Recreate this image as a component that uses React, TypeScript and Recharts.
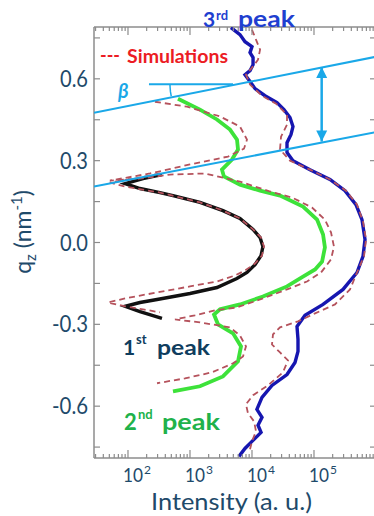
import React from 'react';
import { Scatter, ScatterChart, XAxis, YAxis } from 'recharts';

// intensity (a.u.) against q_z (nm^-1)
const PEAK1_QZ = [0.249, 0.234, 0.216, 0.198, 0.183, 0.172, 0.147, 0.117, 0.088, 0.048, 0.018, -0.015, -0.048, -0.081, -0.11, -0.132, -0.165, -0.187, -0.209, -0.22, -0.234, -0.253, -0.278];
const PEAK1_INT = [353, 175, 90, 156, 328, 532, 1450, 3400, 6400, 10400, 13500, 15000, 14000, 11200, 8300, 5700, 2720, 1000, 294, 156, 90, 156, 353];

const PEAK2_QZ = [0.527, 0.487, 0.451, 0.414, 0.377, 0.341, 0.304, 0.267, 0.242, 0.212, 0.19, 0.172, 0.132, 0.084, 0.029, -0.018, -0.07, -0.099, -0.125, -0.161, -0.198, -0.227, -0.245, -0.264, -0.3, -0.333, -0.381, -0.436, -0.491, -0.527, -0.546];
const PEAK2_INT = [640, 1450, 2720, 4420, 5730, 5950, 4750, 3280, 3530, 6400, 13500, 28300, 66500, 112000, 140000, 150000, 135000, 104000, 66500, 36700, 15000, 6400, 3050, 2440, 2830, 4940, 6650, 5950, 3400, 1450, 532];

const PEAK3_QZ = [0.788, 0.762, 0.736, 0.718, 0.696, 0.678, 0.652, 0.63, 0.615, 0.59, 0.564, 0.538, 0.513, 0.487, 0.458, 0.425, 0.396, 0.366, 0.33, 0.3, 0.267, 0.231, 0.19, 0.139, 0.084, 0.011, -0.051, -0.11, -0.172, -0.227, -0.267, -0.308, -0.355, -0.399, -0.44, -0.484, -0.524, -0.568, -0.612, -0.641, -0.67, -0.696, -0.729, -0.755, -0.784];
const PEAK3_INT = [4580, 6400, 7710, 10000, 9290, 10400, 10400, 9290, 7710, 9290, 11200, 16200, 25300, 32800, 41000, 45800, 42600, 36700, 36700, 45800, 86100, 181000, 316000, 475000, 594000, 665000, 617000, 494000, 294000, 140000, 71600, 53200, 55200, 55200, 49400, 36700, 21000, 14500, 12000, 14500, 12500, 14000, 10000, 7710, 6170];

const SIM1_QZ = [0.253, 0.234, 0.22, 0.205, 0.183, 0.147, 0.117, 0.088, 0.048, 0.018, -0.015, -0.048, -0.077, -0.103, -0.121, -0.143, -0.161, -0.183, -0.205, -0.22, -0.234, -0.245, -0.256];
const SIM1_INT = [328, 130, 51, 90, 328, 1450, 3400, 6400, 10400, 14000, 15600, 14500, 11200, 7710, 5320, 2720, 1000, 294, 90, 47.5, 90, 175, 328];

const SIM2_QZ = [0.516, 0.498, 0.462, 0.425, 0.377, 0.344, 0.315, 0.286, 0.253, 0.227, 0.234, 0.249, 0.253, 0.223, 0.187, 0.165, 0.128, 0.084, 0.037, -0.015, -0.062, -0.11, -0.143, -0.172, -0.209, -0.238, -0.249, -0.267, -0.282, -0.293, -0.311, -0.341, -0.381, -0.418, -0.443, -0.476, -0.498, -0.516];
const SIM2_INT = [272, 895, 3050, 6400, 8300, 7430, 4100, 1000, 226, 51, 156, 475, 1750, 6400, 19500, 44200, 92900, 150000, 188000, 210000, 188000, 130000, 77100, 36700, 13500, 5730, 2530, 1200, 573, 1450, 4420, 6400, 8000, 7160, 4940, 2260, 830, 294];

const SIM3_QZ = [0.78, 0.744, 0.707, 0.67, 0.641, 0.615, 0.579, 0.538, 0.509, 0.469, 0.432, 0.388, 0.341, 0.3, 0.267, 0.231, 0.19, 0.139, 0.077, 0.011, -0.051, -0.11, -0.172, -0.227, -0.26, -0.289, -0.311, -0.337, -0.374, -0.403, -0.432, -0.476, -0.524, -0.56, -0.593, -0.626, -0.656, -0.692, -0.729, -0.758];
const SIM3_INT = [10000, 11600, 13500, 12500, 10000, 8000, 9290, 14500, 24400, 36700, 36700, 29400, 28300, 41000, 86100, 181000, 328000, 494000, 617000, 690000, 640000, 494000, 381000, 218000, 104000, 55200, 28300, 21800, 21000, 28300, 38100, 31600, 18100, 10400, 8000, 8610, 10800, 11600, 10000, 9290];

// cyan guide lines
const UPPER_INT = [28.3, 1000000];
const UPPER_QZ = [0.476, 0.681];
const LOWER_INT = [28.3, 1000000];
const LOWER_QZ = [0.205, 0.405];
const HLINE_INT = [218, 4940];
const HLINE_QZ = [0.58, 0.58];
const ARC_INT = [475, 478, 484, 498];
const ARC_QZ = [0.58, 0.568, 0.553, 0.537];
const ARROW_INT = [133000, 133000];
const ARROW_QZ = [0.643, 0.37];
const ARROW_DIR = ['up', 'down'];

const X_MAJOR = [100, 1000, 10000, 100000];
const X_DECADES = [10, 100, 1000, 10000, 100000];
const X_MULT = [2, 3, 4, 5, 6, 7, 8, 9];
const Y_TICKS = [-0.75, -0.6, -0.45, -0.3, -0.15, 0, 0.15, 0.3, 0.45, 0.6, 0.75];
const Y_LABELED = [-0.6, -0.3, 0, 0.3, 0.6];

const X_DOMAIN = [28.3, 1000000];
const Y_DOMAIN = [-0.79, 0.79];

const xTicks = [
  ...X_DECADES.flatMap((d) => X_MULT.map((m) => m * d)).filter((v) => v >= X_DOMAIN[0] && v <= X_DOMAIN[1]),
  ...X_MAJOR,
].sort((a, b) => a - b);

const zip = (xs: number[], ys: number[]) => xs.map((x, i) => ({ x, y: ys[i] }));

const AXIS = '#8c8c8c';
const NAVY = '#1e4a6a';
const CYAN = '#1aa8e8';
const SIM = '#b5525c';
const FONT = 'Lato, "Open Sans", sans-serif';

const Empty = () => <g />;

const BottomTick = (props: any) => {
  const { x, y, payload } = props;
  const v = payload.value;
  const major = X_MAJOR.includes(v);
  return (
    <g>
      <line x1={x} x2={x} y1={y} y2={y - (major ? 8 : 4)} stroke={AXIS} strokeWidth={1.2} />
      {major && (
        <g fill={NAVY} fontFamily={FONT}>
          <text x={x - 5} y={y + 24} fontSize={19} textLength={20} lengthAdjust="spacingAndGlyphs">
            10
          </text>
          <text x={x + 16} y={y + 16} fontSize={12}>
            {Math.round(Math.log10(v))}
          </text>
        </g>
      )}
    </g>
  );
};

const TopTick = (props: any) => {
  const { x, y, payload } = props;
  const major = X_MAJOR.includes(payload.value);
  return <line x1={x} x2={x} y1={y} y2={y + (major ? 8 : 4)} stroke={AXIS} strokeWidth={1.2} />;
};

const LeftTick = (props: any) => {
  const { x, y, payload } = props;
  const v = payload.value;
  const labeled = Y_LABELED.some((t) => Math.abs(t - v) < 1e-6);
  return (
    <g>
      <line x1={x} x2={x + 6} y1={y} y2={y} stroke={AXIS} strokeWidth={1.2} />
      {labeled && (
        <text
          x={x - 6}
          y={y + 8}
          textAnchor="end"
          fill={NAVY}
          fontFamily={FONT}
          fontSize={23}
          textLength={v < 0 ? 36 : 28}
          lengthAdjust="spacingAndGlyphs"
        >
          {v.toFixed(1)}
        </text>
      )}
    </g>
  );
};

const RightTick = (props: any) => {
  const { x, y } = props;
  return <line x1={x} x2={x - 6} y1={y} y2={y} stroke={AXIS} strokeWidth={1.2} />;
};

const ArrowHead = (props: any) => {
  const { cx, cy, payload } = props;
  const s = payload.dir === 'up' ? 1 : -1;
  return <path d={`M${cx},${cy} L${cx - 5.5},${cy + s * 11} L${cx + 5.5},${cy + s * 11} Z`} fill={CYAN} />;
};

export default function App() {
  const arrow = ARROW_INT.map((x, i) => ({ x, y: ARROW_QZ[i], dir: ARROW_DIR[i] }));
  const series = [
    { data: zip(PEAK1_INT, PEAK1_QZ), stroke: '#111111', width: 3.4, dash: undefined },
    { data: zip(PEAK2_INT, PEAK2_QZ), stroke: '#3de23a', width: 3.8, dash: undefined },
    { data: zip(PEAK3_INT, PEAK3_QZ), stroke: '#1616b0', width: 3.4, dash: undefined },
    { data: zip(SIM1_INT, SIM1_QZ), stroke: SIM, width: 1.8, dash: '6 4' },
    { data: zip(SIM2_INT, SIM2_QZ), stroke: SIM, width: 1.8, dash: '6 4' },
    { data: zip(SIM3_INT, SIM3_QZ), stroke: SIM, width: 1.8, dash: '6 4' },
    { data: zip(UPPER_INT, UPPER_QZ), stroke: CYAN, width: 2, dash: undefined },
    { data: zip(LOWER_INT, LOWER_QZ), stroke: CYAN, width: 2, dash: undefined },
    { data: zip(HLINE_INT, HLINE_QZ), stroke: CYAN, width: 2, dash: undefined },
    { data: zip(ARC_INT, ARC_QZ), stroke: CYAN, width: 1.5, dash: undefined },
  ];

  const axisCommon = {
    interval: 0 as const,
    tickSize: 0,
    tickMargin: 0,
    allowDataOverflow: true,
    axisLine: { stroke: AXIS, strokeWidth: 1.5 },
  };

  return (
    <div style={{ position: 'absolute', left: 0, top: 0, width: 374, height: 516, overflow: 'hidden', background: '#fff' }}>
      <ScatterChart width={377} height={516} margin={{ top: 26, right: 0, bottom: 57, left: 93 }}>
        <XAxis
          {...axisCommon}
          xAxisId="b"
          type="number"
          dataKey="x"
          scale="log"
          domain={X_DOMAIN}
          ticks={xTicks}
          height={1}
          tick={<BottomTick />}
        />
        <XAxis
          {...axisCommon}
          xAxisId="t"
          orientation="top"
          type="number"
          dataKey="x"
          scale="log"
          domain={X_DOMAIN}
          ticks={xTicks}
          height={1}
          tick={<TopTick />}
        />
        <YAxis
          {...axisCommon}
          yAxisId="l"
          type="number"
          dataKey="y"
          domain={Y_DOMAIN}
          ticks={Y_TICKS}
          width={1}
          tick={<LeftTick />}
        />
        <YAxis
          {...axisCommon}
          yAxisId="r"
          orientation="right"
          type="number"
          dataKey="y"
          domain={Y_DOMAIN}
          ticks={Y_TICKS}
          width={1}
          tick={<RightTick />}
        />
        {series.map((s, i) => (
          <Scatter
            key={i}
            xAxisId="b"
            yAxisId="l"
            data={s.data}
            shape={<Empty />}
            line={{ stroke: s.stroke, strokeWidth: s.width, strokeDasharray: s.dash, fill: 'none' }}
            isAnimationActive={false}
          />
        ))}
        <Scatter
          xAxisId="b"
          yAxisId="l"
          data={arrow}
          shape={<ArrowHead />}
          line={{ stroke: CYAN, strokeWidth: 2.5 }}
          isAnimationActive={false}
        />
      </ScatterChart>
      <svg width={374} height={516} style={{ position: 'absolute', left: 0, top: 0, pointerEvents: 'none' }} fontFamily={FONT}>
        <g fill="#1f3fd0" fontWeight={700}>
          <text x={203} y={27} fontSize={21}>3</text>
          <text x={216} y={20} fontSize={13}>rd</text>
          <text x={238} y={27} fontSize={22} textLength={57} lengthAdjust="spacingAndGlyphs">peak</text>
        </g>
        <g fill="#ec1c24" fontWeight={700}>
          <text x={100} y={62} fontSize={18} textLength={20} lengthAdjust="spacingAndGlyphs">---</text>
          <text x={127} y={63} fontSize={19} textLength={101} lengthAdjust="spacingAndGlyphs">Simulations</text>
        </g>
        <text x={118} y={98} fill={CYAN} fontSize={20} fontWeight={700} fontStyle="italic">β</text>
        <g fill="#0f3d5e" fontWeight={700}>
          <text x={123} y={355} fontSize={21}>1</text>
          <text x={136} y={344} fontSize={13}>st</text>
          <text x={157} y={355} fontSize={21} textLength={53} lengthAdjust="spacingAndGlyphs">peak</text>
        </g>
        <g fill="#20b24a" fontWeight={700}>
          <text x={124} y={430} fontSize={22}>2</text>
          <text x={138} y={419} fontSize={13}>nd</text>
          <text x={162} y={430} fontSize={22} textLength={58} lengthAdjust="spacingAndGlyphs">peak</text>
        </g>
        <text x={151} y={510} fill={NAVY} fontSize={23} textLength={161} lengthAdjust="spacingAndGlyphs">
          Intensity (a. u.)
        </text>
        <text transform="translate(31,232) rotate(-90)" textAnchor="middle" fill={NAVY} fontSize={23}>
          q
          <tspan fontSize={15} dy={5}>z</tspan>
          <tspan dy={-5}> (nm</tspan>
          <tspan fontSize={15} dy={-9}>-1</tspan>
          <tspan dy={9}>)</tspan>
        </text>
      </svg>
    </div>
  );
}
